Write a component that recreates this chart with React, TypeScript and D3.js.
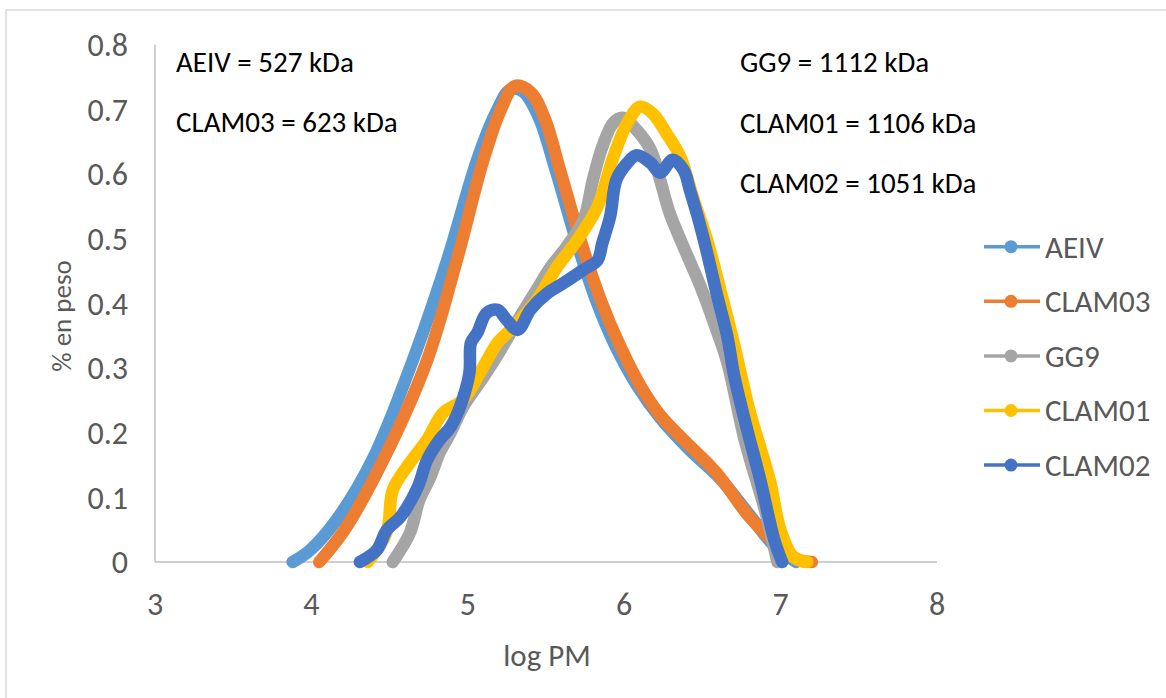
import React from "react";
import * as d3 from "d3";

// log PM (x) / % en peso (y)
const aeivLogPM = [3.88, 3.99, 4.16, 4.39, 4.65, 4.87, 5.06, 5.18, 5.27, 5.35, 5.45, 5.56, 5.69, 5.82, 5.94, 6.08, 6.23, 6.42, 6.61, 6.8, 6.96, 7.1];
const aeivPeso = [0, 0.018, 0.065, 0.158, 0.313, 0.468, 0.622, 0.695, 0.73, 0.728, 0.69, 0.608, 0.5, 0.405, 0.336, 0.274, 0.223, 0.173, 0.13, 0.073, 0.025, 0];

const clam03LogPM = [4.05, 4.21, 4.46, 4.74, 4.93, 5.1, 5.21, 5.3, 5.4, 5.49, 5.59, 5.72, 5.85, 5.97, 6.1, 6.23, 6.38, 6.59, 6.8, 7.0, 7.12, 7.2];
const clam03Peso = [0, 0.049, 0.158, 0.312, 0.467, 0.622, 0.699, 0.736, 0.727, 0.687, 0.606, 0.498, 0.405, 0.336, 0.274, 0.227, 0.189, 0.138, 0.07, 0.022, 0.003, 0];

const gg9LogPM = [4.52, 4.63, 4.69, 4.76, 4.82, 4.89, 4.97, 5.1, 5.21, 5.32, 5.44, 5.53, 5.63, 5.74, 5.8, 5.86, 5.93, 5.99, 6.08, 6.17, 6.23, 6.29, 6.38, 6.49, 6.59, 6.66, 6.77, 6.9, 6.98];
const gg9Peso = [0, 0.045, 0.096, 0.131, 0.169, 0.2, 0.24, 0.286, 0.328, 0.374, 0.421, 0.456, 0.487, 0.529, 0.591, 0.642, 0.679, 0.687, 0.668, 0.637, 0.591, 0.54, 0.487, 0.425, 0.359, 0.308, 0.189, 0.08, 0];

const clam01LogPM = [4.36, 4.48, 4.52, 4.61, 4.74, 4.84, 4.97, 5.1, 5.19, 5.29, 5.44, 5.57, 5.7, 5.83, 5.93, 6.02, 6.1, 6.18, 6.27, 6.36, 6.44, 6.53, 6.61, 6.7, 6.8, 6.93, 7.0, 7.08, 7.17];
const clam01Peso = [0, 0.045, 0.111, 0.147, 0.189, 0.23, 0.251, 0.302, 0.339, 0.363, 0.405, 0.456, 0.498, 0.55, 0.626, 0.679, 0.704, 0.694, 0.663, 0.626, 0.564, 0.498, 0.425, 0.339, 0.235, 0.127, 0.049, 0.008, 0];

const clam02LogPM = [4.31, 4.42, 4.48, 4.57, 4.68, 4.74, 4.82, 4.89, 4.95, 5.01, 5.02, 5.06, 5.12, 5.19, 5.25, 5.32, 5.4, 5.51, 5.61, 5.74, 5.83, 5.86, 5.91, 5.95, 6.02, 6.08, 6.17, 6.23, 6.31, 6.38, 6.42, 6.47, 6.53, 6.59, 6.66, 6.7, 6.77, 6.87, 6.96, 7.01];
const clam02Peso = [0, 0.019, 0.049, 0.07, 0.116, 0.158, 0.189, 0.209, 0.24, 0.292, 0.339, 0.354, 0.385, 0.39, 0.374, 0.359, 0.39, 0.416, 0.431, 0.452, 0.467, 0.493, 0.534, 0.591, 0.617, 0.629, 0.617, 0.602, 0.622, 0.606, 0.575, 0.534, 0.478, 0.416, 0.348, 0.292, 0.22, 0.127, 0.034, 0];

const seriesNames = ["AEIV", "CLAM03", "GG9", "CLAM01", "CLAM02"];
const seriesColors = ["#5B9BD5", "#ED7D31", "#A5A5A5", "#FFC000", "#4472C4"];
const seriesX = [aeivLogPM, clam03LogPM, gg9LogPM, clam01LogPM, clam02LogPM];
const seriesY = [aeivPeso, clam03Peso, gg9Peso, clam01Peso, clam02Peso];

const xTicks = [3, 4, 5, 6, 7, 8];
const yTicks = [0, 0.1, 0.2, 0.3, 0.4, 0.5, 0.6, 0.7, 0.8];

const leftNotes = ["AEIV = 527 kDa", "CLAM03 = 623 kDa"];
const rightNotes = ["GG9 = 1112 kDa", "CLAM01 = 1106 kDa", "CLAM02 = 1051 kDa"];

const font = "Calibri, Carlito, Lato, sans-serif";

export default function App() {
  const x = d3.scaleLinear().domain([3, 8]).range([155, 937]);
  const y = d3.scaleLinear().domain([0, 0.8]).range([562, 44.7]);

  const line = d3
    .line<[number, number]>()
    .x((d) => x(d[0]))
    .y((d) => y(d[1]))
    .curve(d3.curveCatmullRom.alpha(0.5));

  return (
    <svg
      width={1166}
      height={698}
      style={{ position: "absolute", left: 0, top: 0, background: "#fff" }}
    >
      <rect x={6} y={10} width={1200} height={720} fill="#fff" stroke="#d9d9d9" strokeWidth={1.5} />

      {/* axes */}
      <line x1={155} x2={155} y1={y(0.8)} y2={y(0)} stroke="#bfbfbf" strokeWidth={1.5} />
      <line x1={x(3)} x2={x(8)} y1={y(0)} y2={y(0)} stroke="#bfbfbf" strokeWidth={1.5} />

      {yTicks.map((t) => (
        <text key={t} x={128} y={y(t)} dy="0.35em" textAnchor="end" fontFamily={font} fontSize={32} fill="#595959">
          {t === 0 ? "0" : t.toFixed(1)}
        </text>
      ))}
      {xTicks.map((t) => (
        <text key={t} x={x(t)} y={604} dy="0.35em" textAnchor="middle" fontFamily={font} fontSize={32} fill="#595959">
          {t}
        </text>
      ))}

      <text x={547} y={655} dy="0.35em" textAnchor="middle" fontFamily={font} fontSize={31} fill="#595959">
        log PM
      </text>
      <text
        transform="translate(62,316) rotate(-90)"
        dy="0.35em"
        textAnchor="middle"
        fontFamily={font}
        fontSize={27}
        fill="#595959"
      >
        % en peso
      </text>

      {/* curves */}
      {seriesNames.map((name, i) => {
        const pts = seriesX[i].map((v, j) => [v, seriesY[i][j]] as [number, number]);
        return (
          <path
            key={name}
            d={line(pts) || ""}
            fill="none"
            stroke={seriesColors[i]}
            strokeWidth={12.5}
            strokeLinecap="round"
            strokeLinejoin="round"
          />
        );
      })}

      {/* annotations */}
      {leftNotes.map((s, i) => (
        <text key={s} x={176} y={72 + i * 60} fontFamily={font} fontSize={29} fill="#000">
          {s}
        </text>
      ))}
      {rightNotes.map((s, i) => (
        <text key={s} x={740} y={72 + i * 60.5} fontFamily={font} fontSize={29} fill="#000">
          {s}
        </text>
      ))}

      {/* legend */}
      {seriesNames.map((name, i) => {
        const ly = 246.7 + i * 54.6;
        return (
          <g key={name}>
            <line x1={984} x2={1040} y1={ly} y2={ly} stroke={seriesColors[i]} strokeWidth={3.5} />
            <circle cx={1011} cy={ly} r={6.5} fill={seriesColors[i]} />
            <text x={1045} y={ly} dy="0.35em" fontFamily={font} fontSize={31} fill="#595959">
              {name}
            </text>
          </g>
        );
      })}
    </svg>
  );
}
